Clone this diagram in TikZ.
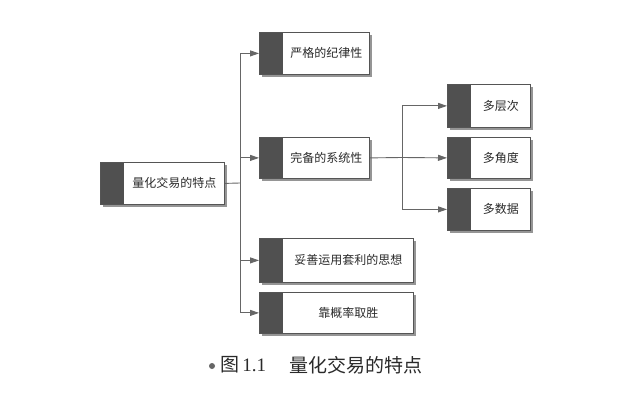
\documentclass[tikz,border=0pt]{standalone}
\usepackage{fontspec}
\setmainfont{Noto Sans CJK SC}
\newfontfamily\latinserif{Liberation Serif}
\usetikzlibrary{arrows.meta,calc}
\definecolor{bandc}{HTML}{505050}
\definecolor{edgec}{HTML}{555555}
\definecolor{shadc}{HTML}{959595}
\definecolor{linec}{HTML}{666666}
\definecolor{txtc}{HTML}{2A2A2A}
\tikzset{
  boxnode/.style={draw=edgec, line width=0.8pt, fill=white, rectangle, inner sep=0pt, anchor=north west},
  boxtext/.style={text=txtc, font=\fontsize{12}{14}\selectfont, inner sep=0pt},
  conn/.style={draw=linec, line width=0.9pt},
  arr/.style={conn, -{Triangle[length=9pt,width=6pt]}},
}
\newcommand{\mybox}[6]{%
  \fill[shadc] (#2+3,#3+3) rectangle ++(#4,#5);
  \node[boxnode, minimum width=#4pt, minimum height=#5pt] (#1) at (#2,#3) {};
  \fill[bandc] (#1.north west) rectangle ([xshift=24pt]#1.south west);
  \draw[edgec, line width=0.8pt] (#1.north west) rectangle (#1.south east);
  \node[boxtext] (#1-t) at ($([xshift=24pt]#1.west)!0.5!(#1.east)$) {#6};
}
\begin{document}
\begin{tikzpicture}[x=1pt,y=-1pt]
\useasboundingbox (0,0) rectangle (620,406);
\fill[white] (0,0) rectangle (620,406);

\mybox{root}{100}{162}{124}{42}{量化交易的特点}
\mybox{b1}{259}{32}{110}{42}{严格的纪律性}
\mybox{b2}{259}{137}{110}{41}{完备的系统性}
\mybox{b3}{259}{238}{154}{44}{妥善运用套利的思想}
\mybox{b4}{259}{292}{154}{41}{靠概率取胜}
\mybox{s1}{447}{84}{83}{43}{多层次}
\mybox{s2}{447}{137}{83}{41}{多角度}
\mybox{s3}{447}{188}{83}{42}{多数据}

\coordinate (j1) at (240,183);
\coordinate (j2) at (402,157.5);
\draw[conn] (root.east) -- (j1);
\draw[arr] (j1) |- (b1.west);
\draw[arr] (j1) |- (b2.west);
\draw[arr] (j1) |- (b3.west);
\draw[arr] (j1) |- (b4.west);
\draw[conn] (b2.east) -- (j2);
\draw[arr] (j2) |- (s1.west);
\draw[arr] (j2) -- (s2.west);
\draw[arr] (j2) |- (s3.west);

\fill[linec] (212,366) circle (3);
\node[anchor=west, text=txtc, inner sep=0pt] (cap1) at (220,365) {\fontsize{19}{21}\selectfont 图\,\latinserif 1.1};
\node[anchor=west, text=txtc, inner sep=0pt] (cap2) at (289,365) {\fontsize{19}{21}\selectfont 量化交易的特点};
\end{tikzpicture}
\end{document}
